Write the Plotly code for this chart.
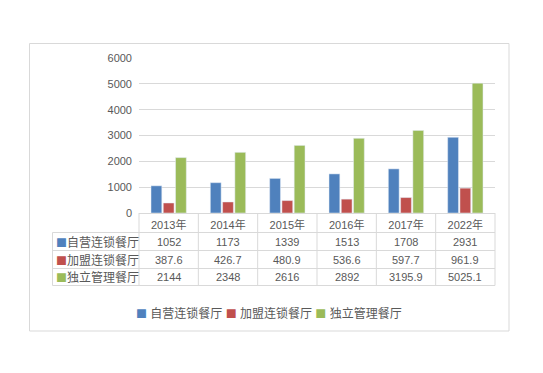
import plotly.graph_objects as go

categories = ["2013年", "2014年", "2015年", "2016年", "2017年", "2022年"]
series_names = ["自营连锁餐厅", "加盟连锁餐厅", "独立管理餐厅"]
self_run = [1052, 1173, 1339, 1513, 1708, 2931]
franchise = [387.6, 426.7, 480.9, 536.6, 597.7, 961.9]
independent = [2144, 2348, 2616, 2892, 3195.9, 5025.1]
y_ticks = [0, 1000, 2000, 3000, 4000, 5000, 6000]

colors = ["#4F81BD", "#C0504D", "#9BBB59"]
series_values = [self_run, franchise, independent]

W, H = 543, 373
ML, MR, MT, MB = 139, 48, 58, 160
PW, PH = W - ML - MR, H - MT - MB
TXT = "#595959"
GRID = "#D9D9D9"
FONT = "Liberation Sans, Noto Sans CJK SC, sans-serif"
SQ = "font-family:Noto Sans CJK SC;font-size:11px"


def px(x):
    return (x - ML) / PW


def py(y):
    return (H - MB - y) / PH


fig = go.Figure()
for name, vals, c in zip(series_names, series_values, colors):
    fig.add_trace(go.Bar(x=categories, y=vals, name=name, marker_color=c,
                         showlegend=False))

shapes = []
annotations = []
line = dict(color=GRID, width=1)

# table geometry (pixels)
row_lines = [232.5, 250.5, 268.5, 285.5]
row_centers = [241.5, 259.5, 277]
left_x = 52.5

for yl in row_lines:
    shapes.append(dict(type="line", xref="paper", yref="paper",
                       x0=px(left_x), x1=1, y0=py(yl), y1=py(yl), line=line))
n = len(categories)
for k in range(n + 1):
    shapes.append(dict(type="line", xref="paper", yref="paper",
                       x0=k / n, x1=k / n, y0=0, y1=py(row_lines[-1]), line=line))
shapes.append(dict(type="line", xref="paper", yref="paper",
                   x0=px(left_x), x1=px(left_x), y0=py(row_lines[0]),
                   y1=py(row_lines[-1]), line=line))
shapes.append(dict(type="rect", xref="paper", yref="paper",
                   x0=px(29.5), x1=px(509), y0=py(331), y1=py(43.5),
                   line=line, fillcolor="rgba(0,0,0,0)"))

for name, vals, c, yc in zip(series_names, series_values, colors, row_centers):
    annotations.append(dict(
        xref="paper", yref="paper", x=px(54), y=py(yc), xanchor="left",
        yanchor="middle", showarrow=False,
        text=f"<span style='color:{c};{SQ}'>■</span>{name}",
        font=dict(size=12, color=TXT, family=FONT)))
    for cat, v in zip(categories, vals):
        annotations.append(dict(
            xref="x", yref="paper", x=cat, y=py(yc), xanchor="center",
            yanchor="middle", showarrow=False, text=f"{v:g}",
            font=dict(size=11, color=TXT, family=FONT)))

leg = " ".join(f"<span style='color:{c};{SQ}'>■</span> {nm}"
               for nm, c in zip(series_names, colors))
annotations.append(dict(xref="paper", yref="paper", x=px(269), y=py(313),
                        xanchor="center", yanchor="middle", showarrow=False,
                        text=leg, font=dict(size=12, color=TXT, family=FONT)))

fig.update_layout(
    width=W, height=H,
    margin=dict(l=ML, r=MR, t=MT, b=MB, pad=0),
    paper_bgcolor="white", plot_bgcolor="white",
    barmode="group", bargap=0.38, bargroupgap=0.12,
    font=dict(family=FONT, color=TXT, size=11),
    shapes=shapes, annotations=annotations,
    xaxis=dict(type="category", showline=True, linecolor=GRID, linewidth=1,
               ticks="", showgrid=False, tickfont=dict(size=11, color=TXT),
               ticklabelstandoff=2),
    yaxis=dict(range=[0, 6000], tickvals=y_ticks, showgrid=True,
               gridcolor=GRID, gridwidth=1, zeroline=False, showline=False,
               ticks="", tickfont=dict(size=11, color=TXT),
               ticklabelstandoff=6),
)

fig.write_html("out.html")
